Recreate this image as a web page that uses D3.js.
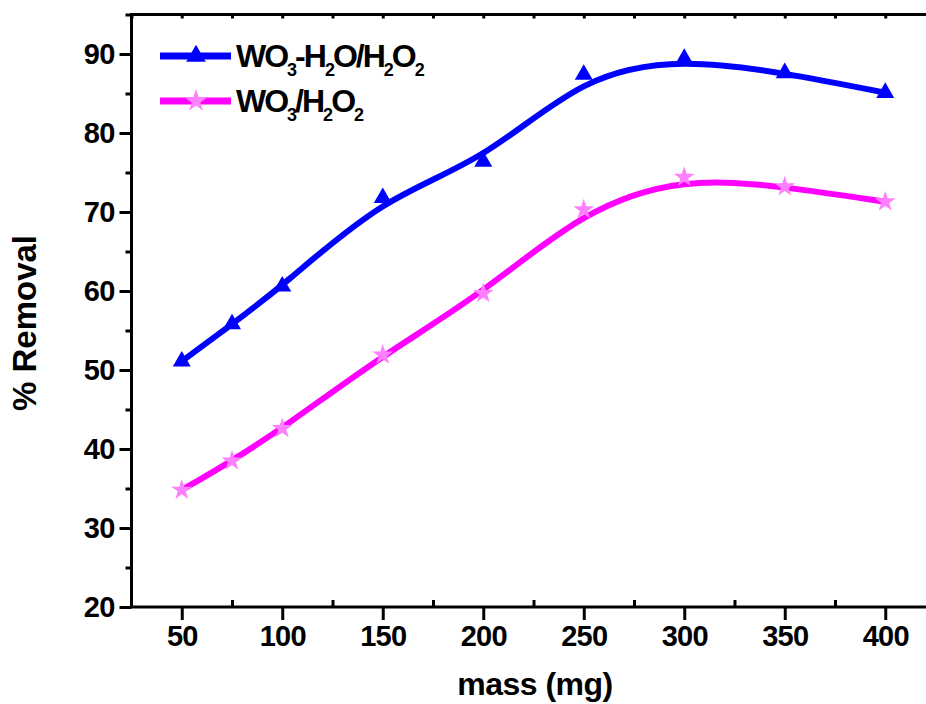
<!DOCTYPE html>
<html>
<head>
<meta charset="utf-8">
<script src="https://cdn.jsdelivr.net/npm/d3@7"></script>
<style>
  body { margin: 0; background: #fff; }
  svg { display: block; font-family: "Liberation Sans", Arial, sans-serif; font-weight: bold; }
  .tick line { stroke: #000; stroke-width: 3; }
  .tick text { font-size: 29px; font-weight: bold; fill: #000; letter-spacing: -0.8px; }
</style>
</head>
<body>
<svg id="chart" width="926" height="704"></svg>
<script>
// data
var mass = [50, 75, 100, 150, 200, 250, 300, 350, 400];
var wo3h2o = [51.1, 55.8, 60.6, 71.8, 76.4, 87.4, 89.4, 87.6, 85.1];
var wo3 = [34.8, 38.5, 42.6, 51.9, 59.7, 70.3, 74.4, 73.2, 71.3];

var xTicks = [50, 100, 150, 200, 250, 300, 350, 400];
var xMinor = [75, 125, 175, 225, 275, 325, 375];
var yTicks = [20, 30, 40, 50, 60, 70, 80, 90];
var yMinor = [25, 35, 45, 55, 65, 75, 85, 95];

var margin = {top: 14.5, left: 131.5};
var plotW = 804, plotH = 592.5;

var svg = d3.select("#chart");
var g = svg.append("g")
    .attr("transform", "translate(" + margin.left + "," + margin.top + ")");

var x = d3.scaleLinear().domain([25, 425]).range([0, plotW]);
var y = d3.scaleLinear().domain([20, 95]).range([plotH, 0]);

// axes: major ticks outward, minor ticks on x pointing in
g.append("g")
    .attr("transform", "translate(0," + plotH + ")")
    .call(d3.axisBottom(x).tickValues(xTicks).tickSize(13).tickPadding(5).tickSizeOuter(0))
    .call(function(s) { s.select(".domain").remove(); });
g.append("g")
    .attr("transform", "translate(0," + plotH + ")")
    .call(d3.axisBottom(x).tickValues(xMinor).tickSize(-7).tickFormat(""))
    .call(function(s) { s.select(".domain").remove(); });
g.append("g")
    .call(d3.axisTop(x).tickValues(d3.range(25, 426, 25)).tickSize(-4).tickFormat(""))
    .call(function(s) { s.select(".domain").remove(); });

g.append("g")
    .call(d3.axisLeft(y).tickValues(yTicks).tickSize(12).tickPadding(5))
    .call(function(s) { s.select(".domain").remove(); });
g.append("g")
    .call(d3.axisLeft(y).tickValues(yMinor).tickSize(6).tickFormat(""))
    .call(function(s) { s.select(".domain").remove(); });

g.append("rect")
    .attr("x", 0).attr("y", 0)
    .attr("width", plotW).attr("height", plotH)
    .attr("fill", "none")
    .attr("stroke", "#000")
    .attr("stroke-width", 3);

var series = [
  {name: "a", values: wo3h2o, line: "#0000ff", mark: "#0000ff", symbol: d3.symbolTriangle, size: 140},
  {name: "b", values: wo3, line: "#ff00ff", mark: "#ff80ff", symbol: d3.symbolStar, size: 135}
];

var line = d3.line()
    .x(function(d) { return x(d[0]); })
    .y(function(d) { return y(d[1]); })
    .curve(d3.curveBasis);

series.forEach(function(s) {
  var pts = mass.map(function(m, i) { return [m, s.values[i]]; });
  g.append("path")
    .datum(pts)
    .attr("d", line)
    .attr("fill", "none")
    .attr("stroke", s.line)
    .attr("stroke-width", 6);
  g.append("g").selectAll("path")
    .data(pts)
    .enter().append("path")
      .attr("transform", function(d) { return "translate(" + x(d[0]) + "," + y(d[1]) + ")"; })
      .attr("d", d3.symbol().type(s.symbol).size(s.size))
      .attr("fill", s.mark);
});

// legend
var legend = svg.append("g");
var legendRows = [
  {y: 56, s: series[0], parts: [["WO",0],["3",1],["-H",0],["2",1],["O/H",0],["2",1],["O",0],["2",1]]},
  {y: 101, s: series[1], parts: [["WO",0],["3",1],["/H",0],["2",1],["O",0],["2",1]]}
];
legendRows.forEach(function(r) {
  legend.append("line")
    .attr("x1", 160).attr("x2", 231)
    .attr("y1", r.y).attr("y2", r.y)
    .attr("stroke", r.s.line).attr("stroke-width", 7);
  legend.append("path")
    .attr("transform", "translate(196," + r.y + ")")
    .attr("d", d3.symbol().type(r.s.symbol).size(r.s.size * 1.2))
    .attr("fill", r.s.mark);
  var t = legend.append("text")
    .attr("x", 236).attr("y", r.y + 11)
    .attr("font-size", 32)
    .attr("letter-spacing", "-2px");
  var shift = 0;
  r.parts.forEach(function(p) {
    var dy = p[1] ? 9 - shift : -shift;
    shift = p[1] ? 9 : 0;
    t.append("tspan")
      .attr("dy", dy)
      .attr("font-size", p[1] ? 18 : 32)
      .text(p[0]);
  });
});

// axis titles
svg.append("text")
    .attr("x", 535).attr("y", 695)
    .attr("text-anchor", "middle")
    .attr("font-size", 32)
    .attr("letter-spacing", "-0.5px")
    .text("mass (mg)");
svg.append("text")
    .attr("transform", "translate(36,323) rotate(-90)")
    .attr("text-anchor", "middle")
    .attr("font-size", 33)
    .text("% Removal");
</script>
</body>
</html>
